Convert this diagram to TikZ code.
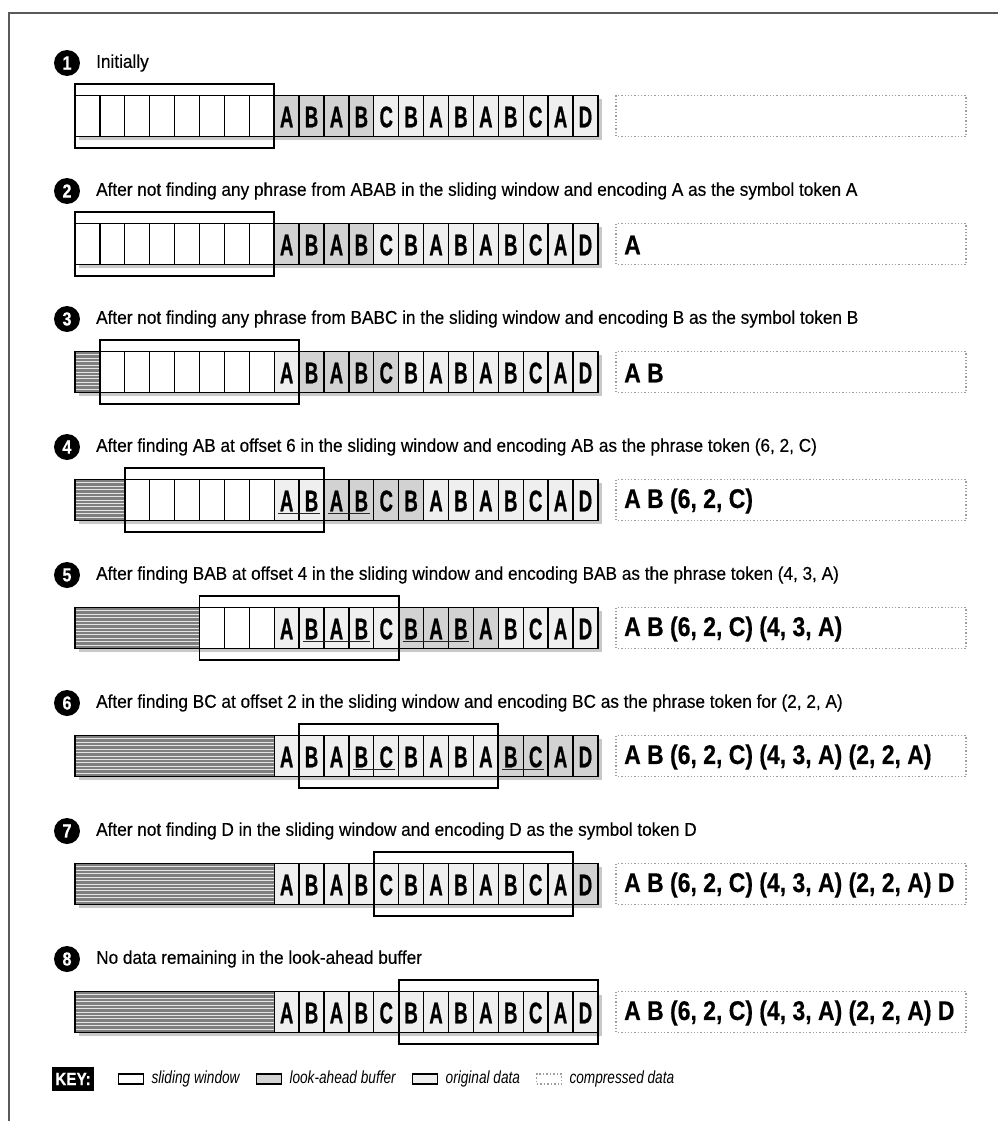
\documentclass[tikz,border=0pt]{standalone}
\usepackage{fontspec}
\setmainfont{Liberation Sans}
\newfontfamily\labfont[FakeStretch=0.93,FakeBold=0.35]{Liberation Sans}
\newfontfamily\cellfont[FakeStretch=0.62,FakeBold=0.6]{Liberation Sans}
\newfontfamily\compfont[FakeStretch=0.85,FakeBold=0.4]{Liberation Sans}
\newfontfamily\keyfont[FakeStretch=0.78]{Liberation Sans}
\usetikzlibrary{positioning}
\definecolor{darkc}{HTML}{D2D2D2}
\definecolor{lightc}{HTML}{EFEFEF}
\definecolor{hatchc}{HTML}{7E7E7E}
\definecolor{framec}{HTML}{5A5A5A}
\definecolor{shadowc}{HTML}{C8C8C8}
\tikzset{
  frameline/.style={draw=framec, line width=1.8pt},
  stripbox/.style={draw=black, line width=1.7pt},
  divider/.style={draw=black, line width=1.3pt},
  winbox/.style={draw=black, line width=1.7pt},
  compbox/.style={draw=gray!75, dotted, line width=1.3pt},
  ul/.style={draw=black!85, line width=0.9pt},
  hatchline/.style={draw=gray!20, line width=1pt},
  stepnum/.style={circle, fill=black, text=white, minimum size=26pt, inner sep=0pt, font=\compfont\bfseries\fontsize{19}{19}\selectfont},
  steplabel/.style={anchor=west, inner sep=0pt, font=\labfont\fontsize{18.5}{18.5}\selectfont},
  cellletter/.style={inner sep=0pt, font=\cellfont\bfseries\fontsize{30}{30}\selectfont},
  comptext/.style={anchor=west, inner sep=0pt, font=\compfont\bfseries\fontsize{27}{27}\selectfont},
  keybox/.style={fill=black, text=white, inner sep=3pt, minimum height=24pt, font=\compfont\bfseries\fontsize{18}{18}\selectfont},
  keyicon/.style={draw=black, line width=1.5pt, minimum width=25pt, minimum height=10pt, inner sep=0pt},
  keytext/.style={inner sep=0pt, text height=12pt, text depth=4pt, font=\keyfont\itshape\fontsize{17.5}{17.5}\selectfont},
}
\begin{document}
\begin{tikzpicture}[x=1pt,y=-1pt]
\useasboundingbox (0,0) rectangle (998,1121);
\draw[frameline] (9,1121) -- (9,13) -- (998,13);
\foreach \r/\h/\w/\da/\db/\sa/\ea/\sb/\eb/\comp/\lab in {
 1/0/0/8/11/-1/-1/-1/-1/{}/{Initially},
 2/0/0/8/11/-1/-1/-1/-1/{A}/{After not finding any phrase from ABAB in the sliding window and encoding A as the symbol token A},
 3/1/1/9/12/-1/-1/-1/-1/{A B}/{After not finding any phrase from BABC in the sliding window and encoding B as the symbol token B},
 4/2/2/10/13/8/9/10/11/{A B (6, 2, C)}/{After finding AB at offset 6 in the sliding window and encoding AB as the phrase token (6, 2, C)},
 5/5/5/13/16/9/11/13/15/{A B (6, 2, C) (4, 3, A)}/{After finding BAB at offset 4 in the sliding window and encoding BAB as the phrase token (4, 3, A)},
 6/8/9/17/20/11/12/17/18/{A B (6, 2, C) (4, 3, A) (2, 2, A)}/{After finding BC at offset 2 in the sliding window and encoding BC as the phrase token for (2, 2, A)},
 7/8/12/20/20/-1/-1/-1/-1/{A B (6, 2, C) (4, 3, A) (2, 2, A) D}/{After not finding D in the sliding window and encoding D as the symbol token D},
 8/8/13/99/99/-1/-1/-1/-1/{A B (6, 2, C) (4, 3, A) (2, 2, A) D}/{No data remaining in the look-ahead buffer}
}{
  \pgfmathsetmacro\yc{116+128*(\r-1)}
  \pgfmathsetmacro\yt{\yc-20.5}
  \pgfmathsetmacro\yb{\yc+20.5}
  % step number and label
  \node[stepnum] (N\r) at (67,\yc-53) {\r};
  \node[steplabel] (T\r) at (96,\yc-53) {\lab};
  % shadow
  \fill[shadowc] (78.5,\yt+3.5) rectangle (601.5,\yb+3.5);
  % cells
  \foreach \i in {0,...,20}{
    \pgfmathsetmacro\xa{75+\i*24.9}
    \pgfmathsetmacro\xb{\xa+24.9}
    \ifnum\i<\h \def\fc{hatchc}\else\ifnum\i<8 \def\fc{white}\else\ifnum\i<\da \def\fc{lightc}\else\ifnum\i>\db \def\fc{lightc}\else\def\fc{darkc}\fi\fi\fi\fi
    \fill[\fc] (\xa,\yt) rectangle (\xb,\yb);
  }
  \ifnum\h>0
    \pgfmathsetmacro\xh{75+\h*24.9}
    \foreach \j in {1,...,11}{
      \draw[hatchline] (75,\yt+\j*3.42) -- (\xh,\yt+\j*3.42);
    }
  \fi
  \pgfmathtruncatemacro\st{max(\h,1)}
  \foreach \i in {\st,...,20}{
    \draw[divider] (75+\i*24.9,\yt) -- (75+\i*24.9,\yb);
  }
  \draw[stripbox] (75,\yt) rectangle (597.9,\yb);
  \foreach \L [count=\k from 8] in {A,B,A,B,C,B,A,B,A,B,C,A,D}{
    \node[cellletter] (L\r-\k) at (75+\k*24.9+12.45,\yc+1) {\L};
  }
  \ifnum\sa>-1
    \draw[ul] (75+\sa*24.9+4,\yc+13.5) -- (75+\ea*24.9+20.9,\yc+13.5);
  \fi
  \ifnum\sb>-1
    \draw[ul] (75+\sb*24.9+4,\yc+13.5) -- (75+\eb*24.9+20.9,\yc+13.5);
  \fi
  % sliding window
  \draw[winbox] (75+\w*24.9,\yc-32) rectangle (75+\w*24.9+199.2,\yc+32);
  % compressed data
  \draw[compbox] (616,\yt) rectangle (966,\yb);
  \node[comptext] (C\r) at (624,\yc+1) {\comp};
}
% key
\node[keybox] (key) at (73,1079) {KEY:};
\node[keyicon, fill=white, right=24pt of key] (k1) {};
\node[keytext, right=7pt of k1] (t1) {sliding window};
\node[keyicon, fill=darkc, right=16pt of t1] (k2) {};
\node[keytext, right=7pt of k2] (t2) {look-ahead buffer};
\node[keyicon, fill=lightc, right=16pt of t2] (k3) {};
\node[keytext, right=7pt of k3] (t3) {original data};
\node[keyicon, draw=gray!75, dotted, line width=1.1pt, right=16pt of t3] (k4) {};
\node[keytext, right=7pt of k4] (t4) {compressed data};
\end{tikzpicture}
\end{document}
